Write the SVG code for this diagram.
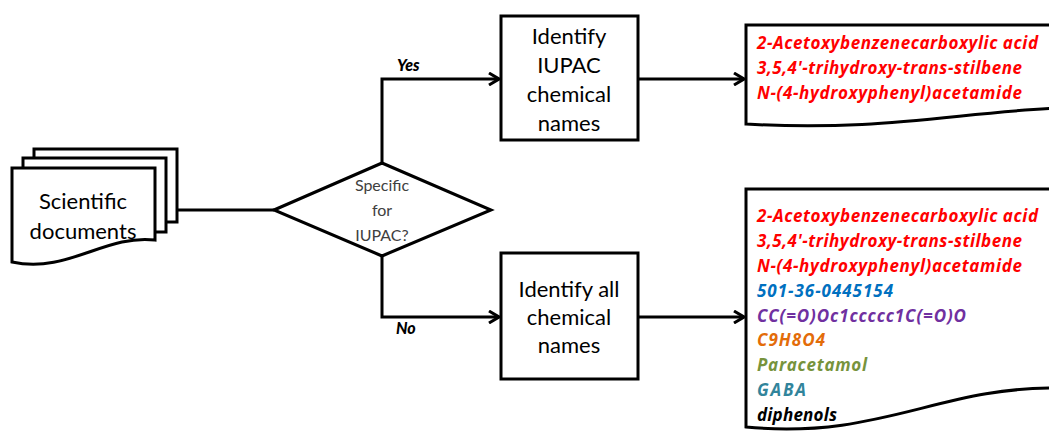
<svg xmlns="http://www.w3.org/2000/svg" width="1049" height="436" viewBox="0 0 1049 436">
  <style>
    .shape { fill: #ffffff; stroke: #000000; stroke-width: 3; stroke-linejoin: miter; }
    .wire { fill: none; stroke: #000000; stroke-width: 3; }
    .label { font-family: Lato, "Open Sans", sans-serif; font-size: 22px; fill: #000000; text-anchor: middle; }
    .q { font-family: Lato, "Open Sans", sans-serif; font-size: 16px; fill: #404040; text-anchor: middle; }
    .branch { font-family: Lato, "Open Sans", sans-serif; font-size: 16px; font-weight: 900; font-style: italic; fill: #000000; }
    .name { font-family: "Open Sans", Lato, sans-serif; font-size: 17px; font-weight: bold; font-style: italic; }
  </style>
  <defs>
    <marker id="arrow" viewBox="0 0 12 14" refX="11" refY="7" markerWidth="12" markerHeight="14" markerUnits="userSpaceOnUse" orient="auto">
      <path d="M1 1 L11 7 L1 13" fill="none" stroke="#000000" stroke-width="3"/>
    </marker>
  </defs>
  <rect width="1049" height="436" fill="#ffffff"/>

  <!-- connectors -->
  <g id="connectors">
    <path class="wire" d="M155 210 H274"/>
    <path class="wire" d="M382 163 V79 H499" marker-end="url(#arrow)"/>
    <path class="wire" d="M382 256 V317 H499" marker-end="url(#arrow)"/>
    <path class="wire" d="M638 79 H744" marker-end="url(#arrow)"/>
    <path class="wire" d="M638 317 H744" marker-end="url(#arrow)"/>
  </g>

  <!-- stacked source documents -->
  <g id="documents">
    <rect class="shape" x="34" y="149" width="143" height="73"/>
    <rect class="shape" x="23" y="158" width="143" height="74"/>
    <path class="shape" d="M12 168 H155 V240 C105 234 68 274 12 262 Z"/>
    <text class="label" x="83" y="209">Scientific</text>
    <text class="label" x="83" y="239">documents</text>
  </g>

  <!-- decision -->
  <g id="decision">
    <polygon class="shape" points="274,210 382,163 491,210 382,256"/>
    <text class="q" x="382" y="191">Specific</text>
    <text class="q" x="382" y="216">for</text>
    <text class="q" x="382" y="241">IUPAC?</text>
  </g>

  <g id="label-yes"><text class="branch" x="397" y="71">Yes</text></g>
  <g id="label-no"><text class="branch" x="396" y="334">No</text></g>

  <!-- processes -->
  <g id="identify-iupac">
    <rect class="shape" x="501" y="16" width="137" height="124"/>
    <text class="label" x="569" y="44">Identify</text>
    <text class="label" x="569" y="73">IUPAC</text>
    <text class="label" x="569" y="102">chemical</text>
    <text class="label" x="569" y="131">names</text>
  </g>

  <g id="identify-all">
    <rect class="shape" x="501" y="253" width="137" height="126"/>
    <text class="label" x="569" y="297">Identify all</text>
    <text class="label" x="569" y="325">chemical</text>
    <text class="label" x="569" y="353">names</text>
  </g>

  <!-- output documents -->
  <g id="iupac-names">
    <path class="shape" d="M746 25 H1060 V108 C960 112 880 132 746 124 Z"/>
    <text class="name" x="757" y="49" fill="#ff0000" textLength="281">2-Acetoxybenzenecarboxylic acid</text>
    <text class="name" x="757" y="74" fill="#ff0000" textLength="265">3,5,4'-trihydroxy-trans-stilbene</text>
    <text class="name" x="757" y="99" fill="#ff0000" textLength="265">N-(4-hydroxyphenyl)acetamide</text>
  </g>

  <g id="all-names">
    <path class="shape" d="M746 189 H1060 V388 C940 386 880 440 746 427 Z"/>
    <text class="name" x="757" y="222" fill="#ff0000" textLength="281">2-Acetoxybenzenecarboxylic acid</text>
    <text class="name" x="757" y="247" fill="#ff0000" textLength="265">3,5,4'-trihydroxy-trans-stilbene</text>
    <text class="name" x="757" y="272" fill="#ff0000" textLength="265">N-(4-hydroxyphenyl)acetamide</text>
    <text class="name" x="757" y="297" fill="#0070c0" textLength="136">501-36-0445154</text>
    <text class="name" x="757" y="322" fill="#7030a0" textLength="209">CC(=O)Oc1ccccc1C(=O)O</text>
    <text class="name" x="757" y="346" fill="#e36c09" textLength="68">C9H8O4</text>
    <text class="name" x="757" y="371" fill="#77933c" textLength="110">Paracetamol</text>
    <text class="name" x="757" y="396" fill="#31849b" textLength="49">GABA</text>
    <text class="name" x="757" y="421" fill="#000000" textLength="80">diphenols</text>
  </g>
</svg>
